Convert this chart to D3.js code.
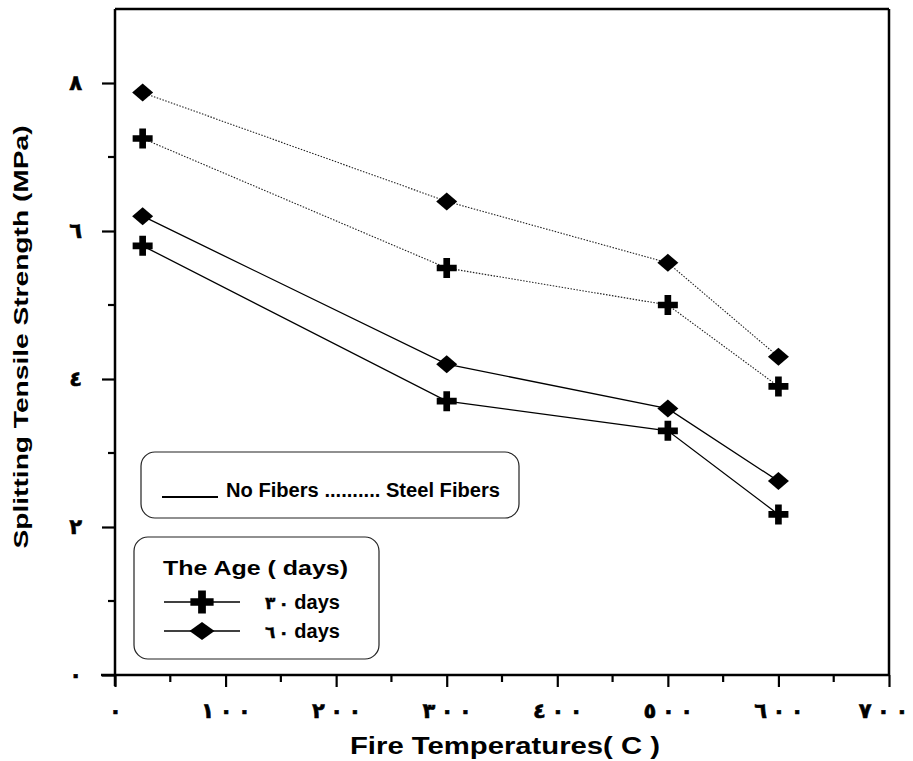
<!DOCTYPE html>
<html>
<head>
<meta charset="utf-8">
<script src="https://cdn.jsdelivr.net/npm/d3@7"></script>
<style>
html,body{margin:0;padding:0;background:#fff;}
svg{display:block;}
</style>
</head>
<body>
<svg id="chart" width="913" height="761"></svg>
<script>
// ---- data ----
const temperatures = [25, 300, 500, 600];
const noFibers30 = [5.8, 3.7, 3.3, 2.17];
const noFibers60 = [6.2, 4.2, 3.6, 2.62];
const steelFibers30 = [7.25, 5.5, 5.0, 3.9];
const steelFibers60 = [7.87, 6.4, 5.57, 4.3];
const xTickValues = [0, 100, 200, 300, 400, 500, 600, 700];
const xTickLabels = ["٠", "١٠٠", "٢٠٠", "٣٠٠", "٤٠٠", "٥٠٠", "٦٠٠", "٧٠٠"];
const yTickValues = [0, 2, 4, 6, 8];
const yTickLabels = ["٠", "٢", "٤", "٦", "٨"];
const legendAgeDigits = ["٣٠", "٦٠"];

const svg = d3.select("#chart");
const x = d3.scaleLinear().domain([0, 700]).range([115, 889]);
const y = d3.scaleLinear().domain([0, 9]).range([675, 9]);

const latin = "'Liberation Sans', Arial, sans-serif";
const arab = "'DejaVu Sans', sans-serif";

// frame top & right
svg.append("line").attr("x1", x(0)).attr("x2", x(700)).attr("y1", y(9)).attr("y2", y(9))
  .attr("stroke", "#000").attr("stroke-width", 2.5);
svg.append("line").attr("x1", x(700)).attr("x2", x(700)).attr("y1", y(9)).attr("y2", y(0))
  .attr("stroke", "#000").attr("stroke-width", 2.5);

// x axis
const xAxis = d3.axisBottom(x).tickValues(xTickValues)
  .tickFormat((d, i) => xTickLabels[i]).tickSize(12).tickPadding(16);
const gx = svg.append("g").attr("transform", `translate(0,${y(0)})`).call(xAxis);
gx.select(".domain").attr("d", `M${x(0) - 14},0H${x(700)}`).attr("stroke-width", 2.5);
gx.selectAll(".tick line").attr("stroke-width", 2.2);
gx.selectAll(".tick text").attr("font-family", arab).attr("font-weight", "bold")
  .attr("font-size", 21).attr("fill", "#000").attr("stroke", "#000").attr("stroke-width", 0.6)
  .each(function (d) {
    const t = d3.select(this);
    const chars = Array.from(t.text());
    t.text(null);
    chars.forEach((c, j) => t.append("tspan").attr("dx", j ? 5.5 : (d === 700 ? -6 : 0)).text(c));
  });
const xMinor = d3.range(50, 700, 100);
svg.append("g").selectAll("line").data(xMinor).join("line")
  .attr("x1", d => x(d)).attr("x2", d => x(d)).attr("y1", y(0)).attr("y2", y(0) + 7)
  .attr("stroke", "#000").attr("stroke-width", 2.2);

// y axis
const yAxis = d3.axisLeft(y).tickValues(yTickValues)
  .tickFormat((d, i) => yTickLabels[i]).tickSize(13).tickPadding(20);
const gy = svg.append("g").attr("transform", `translate(${x(0)},0)`).call(yAxis);
gy.select(".domain").attr("d", `M0,${y(0) + 11}V${y(9)}`).attr("stroke-width", 2.5);
gy.selectAll(".tick line").attr("stroke-width", 2.2);
gy.selectAll(".tick text").attr("font-family", arab).attr("font-weight", "bold")
  .attr("font-size", 21).attr("fill", "#000").attr("stroke", "#000").attr("stroke-width", 0.6);
const yMinor = [1, 3, 5, 7];
svg.append("g").selectAll("line").data(yMinor).join("line")
  .attr("x1", x(0) - 7).attr("x2", x(0)).attr("y1", d => y(d)).attr("y2", d => y(d))
  .attr("stroke", "#000").attr("stroke-width", 2.2);

// axis titles
svg.append("text").attr("x", 505).attr("y", 754).attr("text-anchor", "middle")
  .attr("font-family", latin).attr("font-weight", "bold").attr("font-size", 23)
  .attr("textLength", 310).attr("lengthAdjust", "spacingAndGlyphs")
  .text("Fire Temperatures( C )");
svg.append("text").attr("transform", "translate(28,337) rotate(-90)").attr("text-anchor", "middle")
  .attr("font-family", latin).attr("font-weight", "bold").attr("font-size", 21)
  .attr("textLength", 423).attr("lengthAdjust", "spacingAndGlyphs")
  .text("Splitting Tensile Strength (MPa)");

// series
const series = [
  { vals: noFibers30, sym: "plus", dash: null },
  { vals: noFibers60, sym: "diamond", dash: null },
  { vals: steelFibers30, sym: "plus", dash: "1.5,1.5" },
  { vals: steelFibers60, sym: "diamond", dash: "1.5,1.5" }
];
const line = d3.line().x(d => x(d[0])).y(d => y(d[1]));
const crossPath = d3.symbol().type(d3.symbolCross).size(222)();
function diamondPath(w, h) { return `M0,${-h/2}L${w/2},0L0,${h/2}L${-w/2},0Z`; }

series.forEach(s => {
  const pts = temperatures.map((t, i) => [t, s.vals[i]]);
  svg.append("path").datum(pts).attr("d", line).attr("fill", "none")
    .attr("stroke", s.dash ? "#222" : "#000").attr("stroke-width", s.dash ? 1.1 : 1.3)
    .attr("stroke-dasharray", s.dash);
  svg.append("g").selectAll("path").data(pts).join("path")
    .attr("transform", d => `translate(${x(d[0])},${y(d[1])})`)
    .attr("d", s.sym === "plus" ? crossPath : diamondPath(21, 18))
    .attr("fill", "#000");
});

// legend 1
svg.append("rect").attr("x", 141).attr("y", 452).attr("width", 378).attr("height", 66)
  .attr("rx", 14).attr("fill", "#fff").attr("stroke", "#222").attr("stroke-width", 1.2);
svg.append("line").attr("x1", 162).attr("x2", 218).attr("y1", 497).attr("y2", 497)
  .attr("stroke", "#000").attr("stroke-width", 2);
svg.append("text").attr("x", 226).attr("y", 497)
  .attr("font-family", latin).attr("font-weight", "bold").attr("font-size", 20)
  .attr("textLength", 274).attr("lengthAdjust", "spacingAndGlyphs")
  .text("No Fibers .......... Steel Fibers");

// legend 2
svg.append("rect").attr("x", 134).attr("y", 537).attr("width", 245).attr("height", 122)
  .attr("rx", 14).attr("fill", "#fff").attr("stroke", "#222").attr("stroke-width", 1.2);
svg.append("text").attr("x", 163).attr("y", 575)
  .attr("font-family", latin).attr("font-weight", "bold").attr("font-size", 20)
  .attr("textLength", 185).attr("lengthAdjust", "spacingAndGlyphs")
  .text("The Age ( days)");
const legRows = [
  { y: 602, sym: "plus", digits: legendAgeDigits[0] },
  { y: 631, sym: "diamond", digits: legendAgeDigits[1] }
];
const legendCross = d3.symbol().type(d3.symbolCross).size(300)();
legRows.forEach(r => {
  svg.append("line").attr("x1", 164).attr("x2", 240).attr("y1", r.y).attr("y2", r.y)
    .attr("stroke", "#000").attr("stroke-width", 1.3);
  svg.append("path").attr("transform", `translate(202,${r.y})`)
    .attr("d", r.sym === "plus" ? legendCross : diamondPath(25, 18)).attr("fill", "#000");
  const t = svg.append("text").attr("x", 265).attr("y", r.y + 7)
    .attr("font-weight", "bold").attr("font-size", 20);
  const digits = Array.from(r.digits);
  digits.forEach((c, j) => t.append("tspan").attr("font-family", arab).attr("font-size", 17)
    .attr("stroke", "#000").attr("stroke-width", 0.4).attr("dx", j ? 3 : 0).text(c));
  t.append("tspan").attr("font-family", latin).text(" days");
});
</script>
</body>
</html>
